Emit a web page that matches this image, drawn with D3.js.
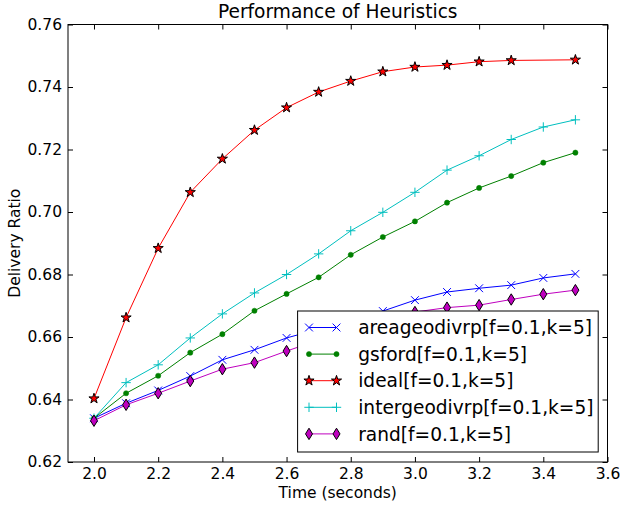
<!DOCTYPE html>
<html>
<head>
<meta charset="utf-8">
<script src="https://cdn.jsdelivr.net/npm/d3@7"></script>
<style>
  body { margin: 0; background: #fff; }
  svg { font-family: "DejaVu Sans", sans-serif; }
</style>
</head>
<body>
<svg id="chart" width="621" height="508"></svg>
<script>
// values
var times = [2.0, 2.1, 2.2, 2.3, 2.4, 2.5, 2.6, 2.7, 2.8, 2.9, 3.0, 3.1, 3.2, 3.3, 3.4, 3.5];
var areageodivrp = [0.6340, 0.6388, 0.6429, 0.6475, 0.6527, 0.6559, 0.6597, 0.6625, 0.6655, 0.6683, 0.6718, 0.6744, 0.6756, 0.6766, 0.6789, 0.6802];
var gsford = [0.6340, 0.6420, 0.6476, 0.6550, 0.6609, 0.6684, 0.6738, 0.6791, 0.6863, 0.6920, 0.6970, 0.7030, 0.7077, 0.7115, 0.7158, 0.7190];
var ideal = [0.6403, 0.6662, 0.6884, 0.7063, 0.7170, 0.7262, 0.7334, 0.7384, 0.7419, 0.7449, 0.7464, 0.7470, 0.7481, 0.7485, null, 0.7487];
var intergeodivrp = [0.6340, 0.6454, 0.6511, 0.6597, 0.6674, 0.6741, 0.6800, 0.6866, 0.6940, 0.6999, 0.7063, 0.7134, 0.7180, 0.7232, 0.7272, 0.7295];
var rand = [0.6332, 0.6383, 0.6420, 0.6459, 0.6497, 0.6518, 0.6555, 0.6590, 0.6620, 0.6650, 0.6680, 0.6694, 0.6702, 0.6720, 0.6737, 0.6750];

var xTicks = [2.0, 2.2, 2.4, 2.6, 2.8, 3.0, 3.2, 3.4, 3.6];
var yTicks = [0.62, 0.64, 0.66, 0.68, 0.70, 0.72, 0.74, 0.76];

var series = [
    {name: 'areageodivrp[f=0.1,k=5]', values: areageodivrp, color: '#0000ff', marker: 'x'},
    {name: 'gsford[f=0.1,k=5]', values: gsford, color: '#008000', marker: 'dot'},
    {name: 'ideal[f=0.1,k=5]', values: ideal, color: '#ff0000', marker: 'star'},
    {name: 'intergeodivrp[f=0.1,k=5]', values: intergeodivrp, color: '#00bfbf', marker: 'plus'},
    {name: 'rand[f=0.1,k=5]', values: rand, color: '#bf00bf', marker: 'diamond'}
];

var margin = {left: 68, top: 24.5, right: 13.5, bottom: 46};
var width = 621 - margin.left - margin.right;
var height = 508 - margin.top - margin.bottom;

var svg = d3.select('#chart');
var main = svg.append('g').attr('transform', 'translate(' + margin.left + ',' + margin.top + ')');

var xScale = d3.scaleLinear().domain([1.919, 3.6]).range([0, width]);
var yScale = d3.scaleLinear().domain([0.62, 0.76]).range([height, 0]);

function _points(s) {
    return times.map(function (t, i) { return {x: t, y: s.values[i]}; })
        .filter(function (d) { return d.y !== null; });
}

function _drawMarker(g, type, color, x, y) {
    if (type === 'x') {
        var r = 3.9;
        g.append('path')
            .attr('d', 'M' + (x - r) + ',' + (y - r) + 'L' + (x + r) + ',' + (y + r) +
                'M' + (x - r) + ',' + (y + r) + 'L' + (x + r) + ',' + (y - r))
            .attr('stroke', color).attr('stroke-width', 1).attr('fill', 'none');
    } else if (type === 'plus') {
        var p = 4.7;
        g.append('path')
            .attr('d', 'M' + (x - p) + ',' + y + 'L' + (x + p) + ',' + y +
                'M' + x + ',' + (y - p) + 'L' + x + ',' + (y + p))
            .attr('stroke', color).attr('stroke-width', 1).attr('fill', 'none');
    } else if (type === 'dot') {
        g.append('circle').attr('cx', x).attr('cy', y).attr('r', 2.6)
            .attr('fill', color).attr('stroke', color).attr('stroke-width', 0.5);
    } else if (type === 'star') {
        g.append('path')
            .attr('d', d3.symbol().type(d3.symbolStar).size(32)())
            .attr('transform', 'translate(' + x + ',' + y + ')')
            .attr('fill', color).attr('stroke', '#000').attr('stroke-width', 1);
    } else if (type === 'diamond') {
        var h = 5.7, w = 3.5;
        g.append('path')
            .attr('d', 'M' + x + ',' + (y - h) + 'L' + (x + w) + ',' + y + 'L' + x + ',' + (y + h) +
                'L' + (x - w) + ',' + y + 'Z')
            .attr('fill', color).attr('stroke', '#000').attr('stroke-width', 1);
    }
}

// ticks (inside, all four sides)
var xAxis = d3.axisBottom(xScale).tickValues(xTicks).tickFormat(d3.format('.1f'))
    .tickSizeInner(-5).tickSizeOuter(0).tickPadding(6);
main.append('g').attr('transform', 'translate(0,' + height + ')').call(xAxis);
main.append('g').call(d3.axisTop(xScale).tickValues(xTicks).tickFormat('').tickSizeInner(-5).tickSizeOuter(0));

var yAxis = d3.axisLeft(yScale).tickValues(yTicks).tickFormat(d3.format('.2f'))
    .tickSizeInner(-5).tickSizeOuter(0).tickPadding(6);
main.append('g').call(yAxis);
main.append('g').attr('transform', 'translate(' + width + ',0)')
    .call(d3.axisRight(yScale).tickValues(yTicks).tickFormat('').tickSizeInner(-5).tickSizeOuter(0));

main.selectAll('.domain').remove();
main.selectAll('.tick line').attr('stroke', '#000');
main.selectAll('.tick text').attr('fill', '#000').style('font-size', '15.5px')
    .style('font-family', '"DejaVu Sans", sans-serif');

// series
var line = d3.line().x(function (d) { return xScale(d.x); }).y(function (d) { return yScale(d.y); });
var linesG = main.append('g');
series.forEach(function (s) {
    var pts = _points(s);
    linesG.append('path').datum(pts).attr('d', line)
        .attr('fill', 'none').attr('stroke', s.color).attr('stroke-width', 1);
    var mg = linesG.append('g');
    pts.forEach(function (d) { _drawMarker(mg, s.marker, s.color, xScale(d.x), yScale(d.y)); });
});

// frame
main.append('rect').attr('width', width).attr('height', height)
    .attr('fill', 'none').attr('stroke', '#000').attr('stroke-width', 1);

// legend
var legend = main.append('g').attr('transform', 'translate(' + (297.6 - margin.left) + ',' + (311 - margin.top) + ')');
legend.append('rect').attr('width', 300.6).attr('height', 141)
    .attr('fill', '#fff').attr('stroke', '#000').attr('stroke-width', 1);
series.forEach(function (s, i) {
    var y = 16.5 + i * 26.6;
    legend.append('line').attr('x1', 11.4).attr('x2', 38.9).attr('y1', y).attr('y2', y)
        .attr('stroke', s.color).attr('stroke-width', 1);
    _drawMarker(legend, s.marker, s.color, 11.4, y);
    _drawMarker(legend, s.marker, s.color, 38.9, y);
    legend.append('text').attr('x', 60.6).attr('y', y).attr('dy', '0.36em')
        .style('font-size', '18.6px').text(s.name);
});

// labels
svg.append('text').attr('x', margin.left + width / 2).attr('y', 18)
    .attr('text-anchor', 'middle').style('font-size', '18.6px').text('Performance of Heuristics');
svg.append('text').attr('x', margin.left + width / 2).attr('y', 498)
    .attr('text-anchor', 'middle').style('font-size', '15.5px').text('Time (seconds)');
svg.append('text').attr('transform', 'translate(20,' + (margin.top + height / 2) + ') rotate(-90)')
    .attr('text-anchor', 'middle').style('font-size', '15.5px').text('Delivery Ratio');
</script>
</body>
</html>
